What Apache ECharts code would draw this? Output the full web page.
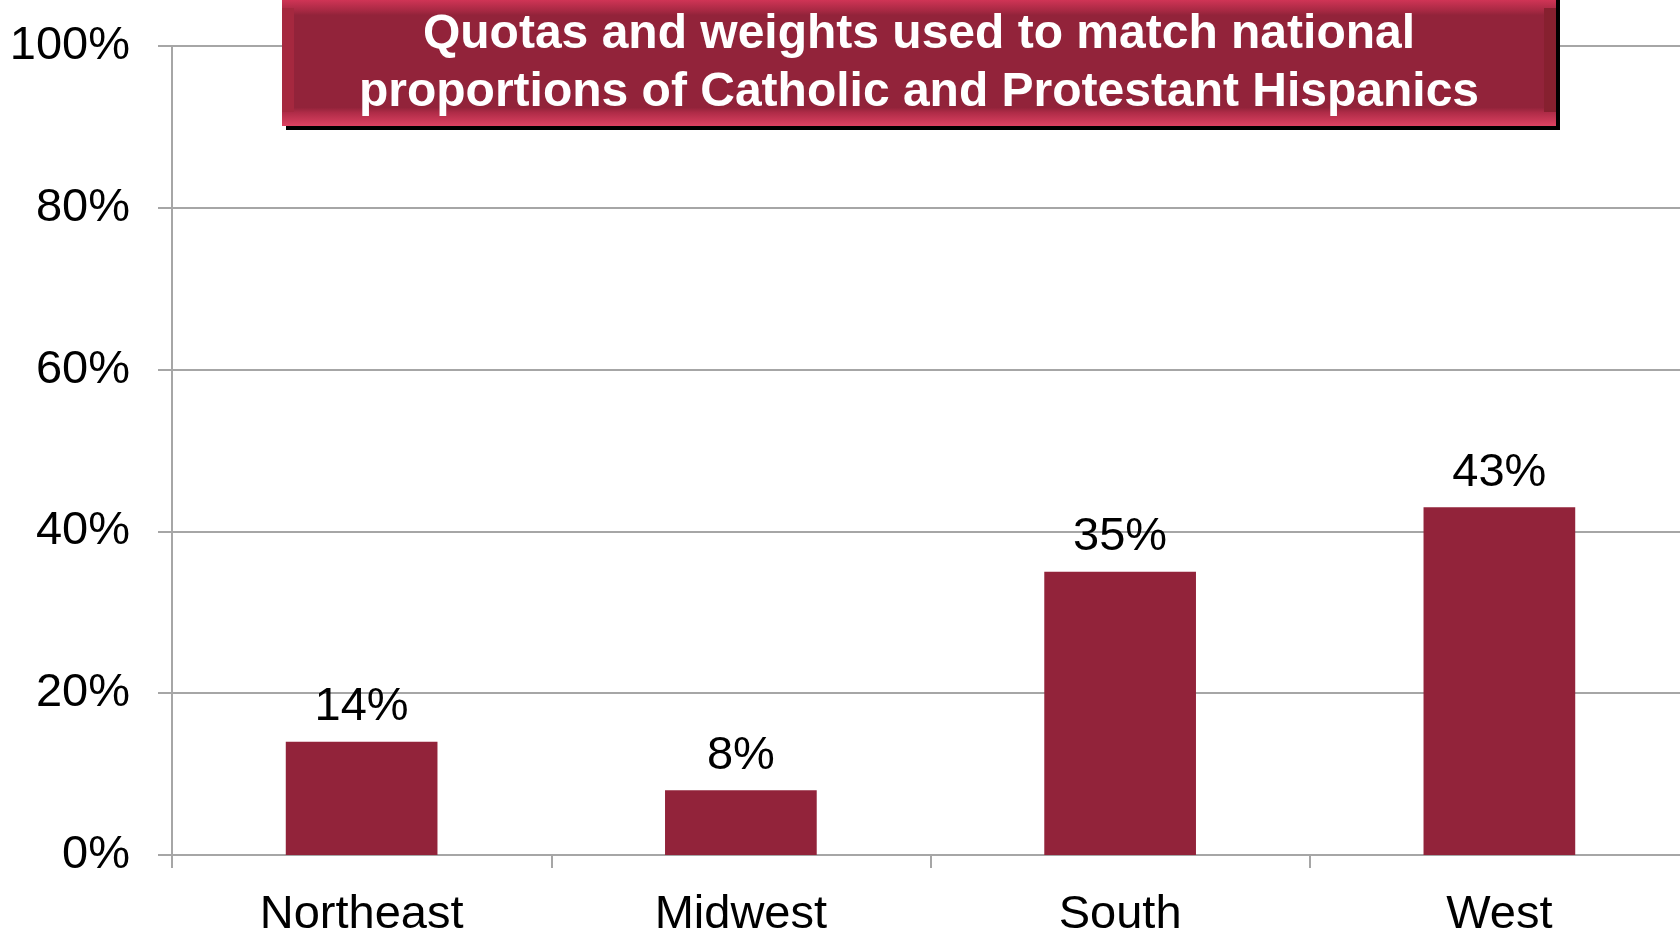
<!DOCTYPE html>
<html>
<head>
<meta charset="utf-8">
<style>
html,body{margin:0;padding:0;background:#fff;}
#chart{width:1680px;height:933px;}
</style>
<script src="https://cdn.jsdelivr.net/npm/echarts@6/dist/echarts.min.js"></script>
</head>
<body>
<div id="chart"></div>
<script>
const categories = ['Northeast', 'Midwest', 'South', 'West'];
const shares = [14, 8, 35, 43];
const titleLines = ['Quotas and weights used to match national', 'proportions of Catholic and Protestant Hispanics'];

const chart = echarts.init(document.getElementById('chart'), null, {renderer: 'canvas'});
const FONT = '"Liberation Sans", Arial, sans-serif';
const BAR = '#92233A';
const GRID = '#a6a6a6';

const boxL = 282, boxR = 1556, boxT = -6, boxB = 126;

chart.setOption({
  animation: false,
  backgroundColor: '#fff',
  grid: {left: 172, width: 1517, top: 46, height: 809, containLabel: false, outerBoundsMode: 'none'},
  xAxis: {
    type: 'category',
    data: categories,
    axisLine: {show: true, lineStyle: {color: GRID, width: 2}},
    axisTick: {show: true, length: 13, lineStyle: {color: GRID, width: 2}},
    axisLabel: {color: '#000', fontFamily: FONT, fontSize: 47, margin: 37}
  },
  yAxis: {
    type: 'value',
    min: 0, max: 100, interval: 20,
    axisLine: {show: true, lineStyle: {color: GRID, width: 2}},
    axisTick: {show: true, length: 14, lineStyle: {color: GRID, width: 2}},
    splitLine: {show: true, lineStyle: {color: GRID, width: 2}},
    axisLabel: {color: '#000', fontFamily: FONT, fontSize: 47, margin: 42, formatter: '{value}%'}
  },
  series: [{
    type: 'bar',
    data: shares,
    barWidth: '40%',
    itemStyle: {color: BAR},
    label: {show: true, position: 'top', distance: 11, color: '#000', fontFamily: FONT, fontSize: 47, formatter: '{c}%'}
  }],
  graphic: [
    {type: 'rect', z: 100, shape: {x: boxL + 4, y: boxT, width: boxR - boxL, height: boxB - boxT + 4}, style: {fill: '#000'}},
    {type: 'rect', z: 101, shape: {x: boxL, y: boxT, width: boxR - boxL, height: boxB - boxT},
      style: {fill: new echarts.graphic.LinearGradient(0, 0, 0, 1, [
        {offset: 0, color: '#e63b60'},
        {offset: 0.13, color: '#a52842'},
        {offset: 0.16, color: BAR},
        {offset: 0.86, color: BAR},
        {offset: 0.9, color: '#b02c48'},
        {offset: 1, color: '#de4262'}
      ])}},
    {type: 'rect', z: 102, shape: {x: boxL, y: boxT + 14, width: 12, height: boxB - boxT - 28},
      style: {fill: '#a5283f'}},
    {type: 'rect', z: 102, shape: {x: boxR - 12, y: boxT + 14, width: 12, height: boxB - boxT - 28},
      style: {fill: '#86202f'}},
    {type: 'text', z: 103, x: (boxL + boxR) / 2, y: 35,
      style: {text: titleLines[0], fill: '#fff', font: 'bold 48px ' + FONT, align: 'center', verticalAlign: 'middle'}},
    {type: 'text', z: 103, x: (boxL + boxR) / 2, y: 93,
      style: {text: titleLines[1], fill: '#fff', font: 'bold 48px ' + FONT, align: 'center', verticalAlign: 'middle'}}
  ]
});
</script>
</body>
</html>
